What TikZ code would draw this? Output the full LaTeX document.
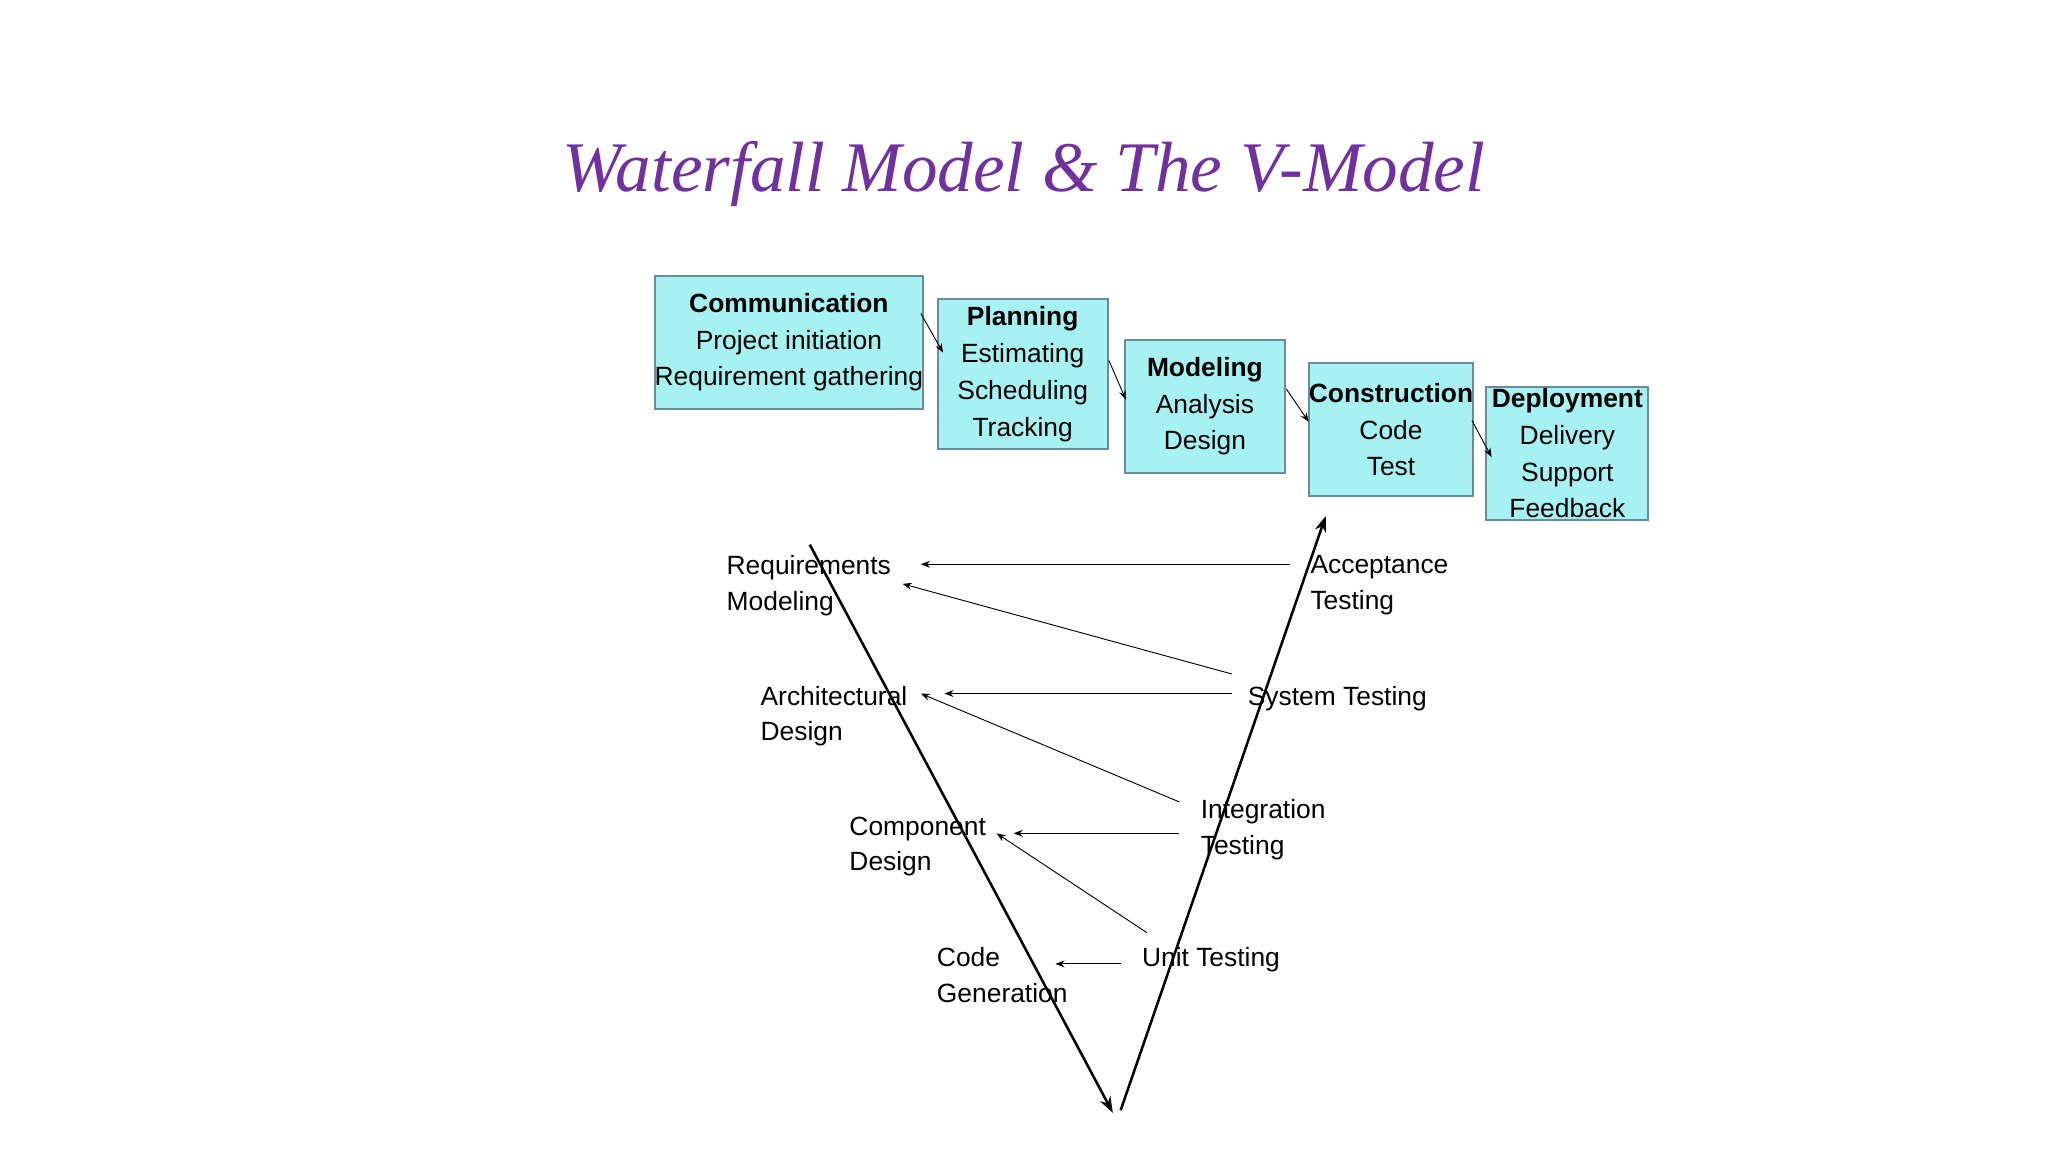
\documentclass[tikz,border=0pt]{standalone}
\usepackage{fontspec}
\setmainfont{Liberation Sans}
\newfontfamily\titlefont{Liberation Serif}
\usetikzlibrary{arrows.meta}
\definecolor{boxfill}{HTML}{A6F2F2}
\definecolor{boxline}{HTML}{6A8AA0}
\definecolor{titlecol}{HTML}{7030A0}
\begin{document}
\begin{tikzpicture}[x=0.02cm,y=-0.02cm,
  box/.style={draw=boxline,fill=boxfill,line width=0.8pt,inner sep=0pt,align=center,font=\fontsize{11.5}{16}\selectfont},
  lbl/.style={anchor=north west,inner sep=0pt,align=left,font=\fontsize{11.5}{15.5}\selectfont},
  sm/.style={-{Stealth[length=4pt,width=3pt]},line width=0.4pt},
  vl/.style={-{Stealth[length=7pt,width=5pt]},line width=1.1pt}]
\useasboundingbox (0,0) rectangle (1568,882);
\node[text=titlecol,font=\titlefont\itshape\fontsize{31}{36}\selectfont] (title) at (784,133) {Waterfall Model \& The V-Model};
% boxes
\node[box,minimum width=200*0.02cm,minimum height=102*0.02cm] (c) at (604,262) {\textbf{Communication}\\Project initiation\\Requirement gathering};
\node[box,minimum width=130*0.02cm,minimum height=115*0.02cm] (p) at (783,286.5) {\textbf{Planning}\\Estimating\\Scheduling\\Tracking};
\node[box,minimum width=123*0.02cm,minimum height=102*0.02cm] (m) at (922.5,311) {\textbf{Modeling}\\Analysis\\Design};
\node[box,minimum width=124*0.02cm,minimum height=102*0.02cm] (k) at (1065,329) {\textbf{Construction}\\Code\\Test};
\node[box,minimum width=124*0.02cm,minimum height=102*0.02cm] (d) at (1200,347) {\textbf{Deployment}\\Delivery\\Support\\Feedback};
\draw[sm] (705,240) -- (722,270);
\draw[sm] (849,276) -- (862,306);
\draw[sm] (985,298) -- (1002,323);
\draw[sm] (1127,322) -- (1142,350);
% V
\coordinate (vl1) at (620,417); \coordinate (vb1) at (852,852);
\coordinate (vb2) at (858,850); \coordinate (vr1) at (1015,395);
\draw[vl] (vl1) -- (vb1);
\draw[vl] (vb2) -- (vr1);
% labels
\node[lbl] (rm) at (556,425) {Requirements\\Modeling};
\node[lbl] (ad) at (582,525) {Architectural\\Design};
\node[lbl] (cd) at (650,625) {Component\\Design};
\node[lbl] (cg) at (717,725) {Code\\Generation};
\node[lbl] (at) at (1003,425) {Acceptance\\Testing};
\node[lbl] (st) at (955,525) {System Testing};
\node[lbl] (it) at (919,612) {Integration\\Testing};
\node[lbl] (ut) at (874,725) {Unit Testing};
% arrows
\coordinate (a1) at (988,432); \coordinate (b1) at (705,432);
\coordinate (a2) at (943,516); \coordinate (b2) at (691,447);
\coordinate (a3) at (943,531); \coordinate (b3) at (723,531);
\coordinate (a4) at (903,614); \coordinate (b4) at (705,531);
\coordinate (a5) at (903,638); \coordinate (b5) at (776,638);
\coordinate (a6) at (878,714); \coordinate (b6) at (763,638);
\coordinate (a7) at (858,738); \coordinate (b7) at (808,738);
\foreach \i in {1,...,7} \draw[sm] (a\i) -- (b\i);
\end{tikzpicture}
\end{document}
